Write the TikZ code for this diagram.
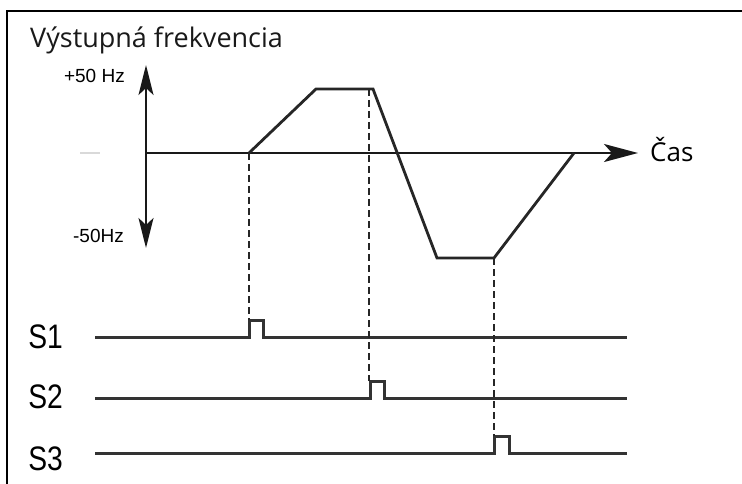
\documentclass[tikz,border=0pt]{standalone}
\usepackage{fontspec}
\setmainfont{Open Sans}
\newfontfamily\arialf{Liberation Sans}
\newfontfamily\narrowf[FakeStretch=0.83]{Liberation Sans}
\usetikzlibrary{arrows.meta}
\begin{document}
\begin{tikzpicture}[x=1pt,y=-1pt,
  frame/.style={line width=1.5pt,black},
  axis/.style={line width=2.5pt,black!90},
  wave/.style={line width=2.8pt,black!85,line join=miter},
  sig/.style={line width=3pt,black!80},
  dline/.style={line width=2.1pt,black!85,dash pattern=on 7pt off 4pt},
  title/.style={font=\fontsize{27}{30}\selectfont,text=black!90,inner sep=0pt,anchor=base west},
  hz/.style={font=\arialf\fontsize{19}{22}\selectfont,inner sep=0pt,anchor=base east},
  slab/.style={font=\narrowf\fontsize{34}{36}\selectfont,inner sep=0pt,anchor=base east},
]
\useasboundingbox (0,0) rectangle (742,484);
% frame
\draw[frame] (742,11) -- (7,11) -- (7,484);
% texts
\node[title] (ttl) at (30,48) {Výstupná frekvencia};
\node[hz] (p50) at (125,83) {+50 Hz};
\node[hz] (m50) at (124,242) {-50Hz};
\node[font=\fontsize{26}{28}\selectfont,inner sep=0pt,anchor=base west] (cas) at (650,161) {Čas};
% faint mark
\draw[black!15,line width=1.5pt] (80,153) -- (100,153);
% axes
\coordinate (vtop) at (146,65);
\coordinate (vbot) at (146,248);
\coordinate (o) at (146,153);
\coordinate (hend) at (638,153);
\draw[axis,{Stealth[length=30pt,width=15pt,inset=7pt]}-{Stealth[length=30pt,width=15pt,inset=7pt]}] (vtop) -- (vbot);
\draw[axis,-{Stealth[length=34pt,width=18pt,inset=8pt]}] (o) -- (hend);
% waveform
\coordinate (w0) at (249,153);
\coordinate (w1) at (316,89);
\coordinate (w2) at (373,89);
\coordinate (w3) at (437,258);
\coordinate (w4) at (494,258);
\coordinate (w5) at (574,153);
\draw[wave] (w0) -- (w1) -- (w2) -- (w3) -- (w4) -- (w5);
% signal lines
\node[slab] (s1) at (63,348) {S1};
\node[slab] (s2) at (63,408) {S2};
\node[slab] (s3) at (63,470) {S3};
\coordinate (a1) at (95,337); \coordinate (b1) at (627,337);
\coordinate (a2) at (95,398); \coordinate (b2) at (627,398);
\coordinate (a3) at (95,453); \coordinate (b3) at (627,453);
\draw[sig] (a1) -- (249,337) |- (263,320) |- (b1);
\draw[sig] (a2) -- (370,398) |- (384,381) |- (b2);
\draw[sig] (a3) -- (494,453) |- (509,436) |- (b3);
% dashed lines
\coordinate (d1) at (249,320);
\coordinate (d2top) at (369,89);
\coordinate (d2) at (369,381);
\coordinate (d3) at (494,436);
\draw[dline] (w0) -- (d1);
\draw[dline] (d2top) -- (d2);
\draw[dline] (w4) -- (d3);
\end{tikzpicture}
\end{document}
